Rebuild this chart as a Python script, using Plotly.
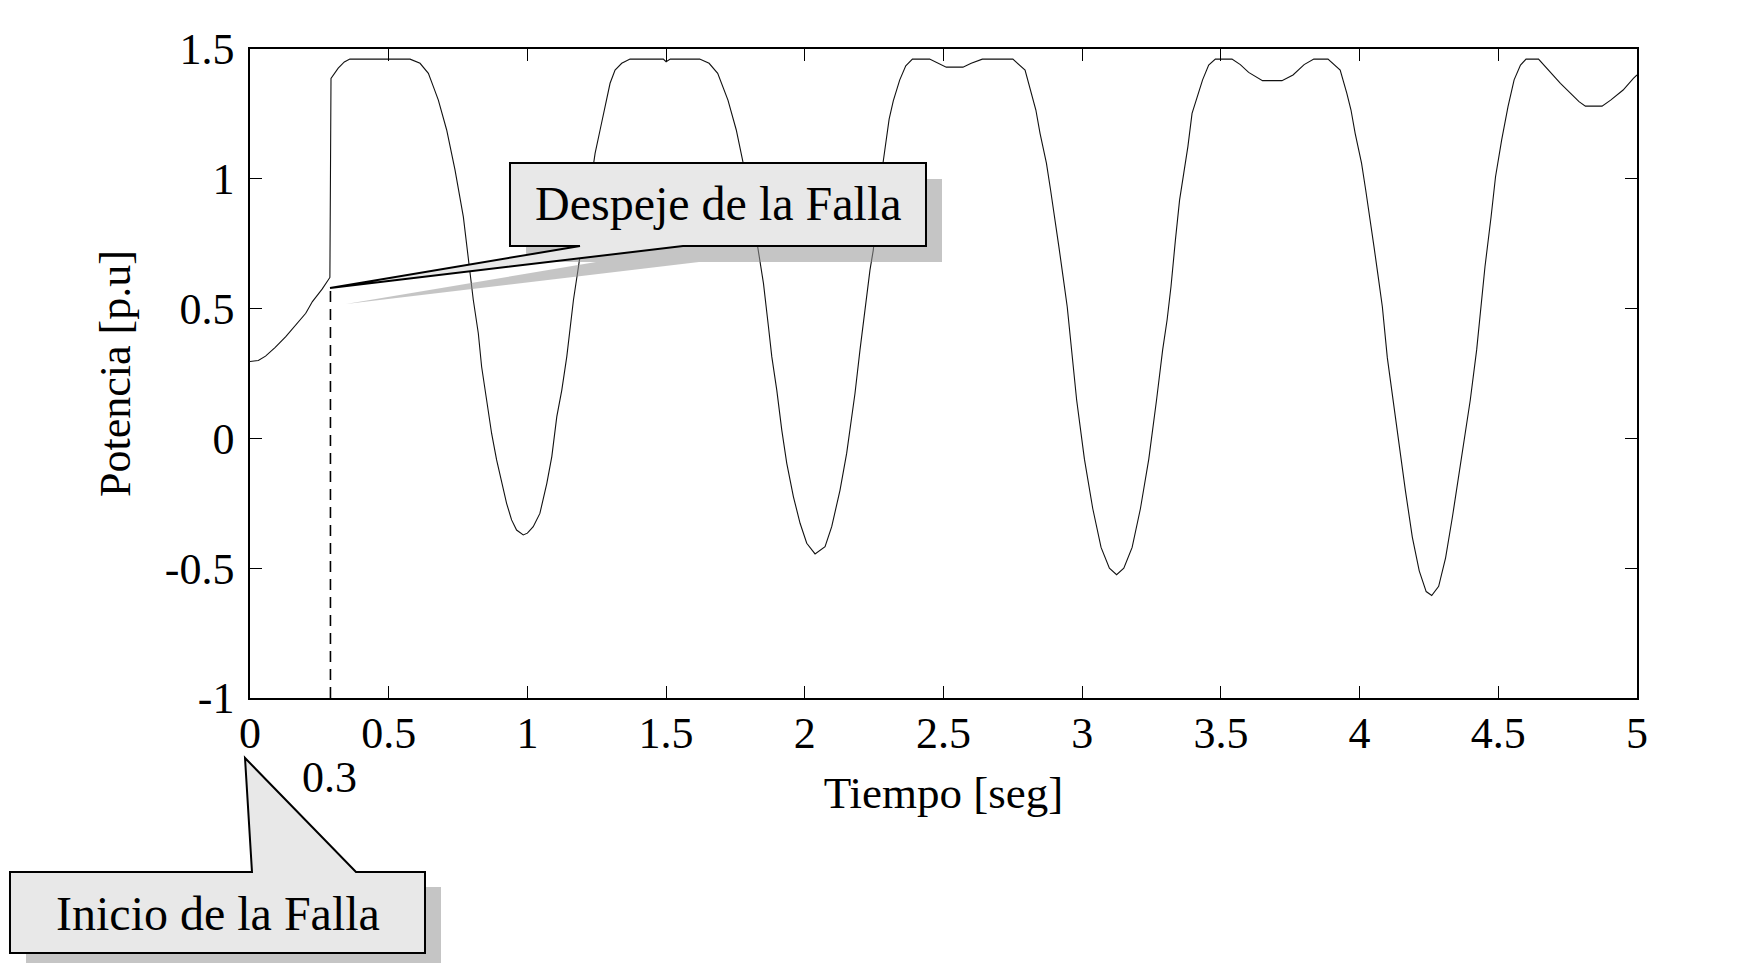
import plotly.graph_objects as go

# Potencia eléctrica del generador durante y después de la falla
tiempo = [
    0.0, 0.03, 0.056, 0.09, 0.129, 0.165, 0.201, 0.225, 0.26, 0.288,
    0.292, 0.318, 0.34, 0.36, 0.577, 0.613, 0.643, 0.661, 0.679, 0.709,
    0.739, 0.769, 0.793, 0.805, 0.823, 0.835, 0.853, 0.871, 0.889, 0.907,
    0.925, 0.943, 0.961, 0.985, 1.0, 1.021, 1.045, 1.07, 1.088, 1.106,
    1.124, 1.142, 1.154, 1.166, 1.184, 1.205, 1.225, 1.244, 1.262, 1.28,
    1.298, 1.316, 1.34, 1.37, 1.49, 1.5, 1.515, 1.621, 1.655, 1.686,
    1.705, 1.723, 1.753, 1.783, 1.813, 1.838, 1.851, 1.869, 1.881, 1.899,
    1.917, 1.935, 1.959, 1.983, 2.007, 2.037, 2.073, 2.097, 2.127, 2.151,
    2.169, 2.181, 2.199, 2.217, 2.235, 2.247, 2.26, 2.274, 2.289, 2.304,
    2.319, 2.342, 2.364, 2.388, 2.45, 2.48, 2.51, 2.57, 2.60, 2.64,
    2.75, 2.794, 2.818, 2.833, 2.848, 2.871, 2.886, 2.901, 2.916, 2.931,
    2.946, 2.98, 3.008, 3.038, 3.068, 3.098, 3.124, 3.15, 3.18,
    3.21, 3.24, 3.268, 3.29, 3.306, 3.32, 3.336, 3.351, 3.366, 3.381,
    3.396, 3.411, 3.434, 3.456, 3.48, 3.54, 3.57, 3.6, 3.65, 3.72,
    3.76, 3.8, 3.835, 3.886, 3.93, 3.954, 3.969, 3.984, 4.007, 4.022,
    4.037, 4.052, 4.067, 4.082, 4.1, 4.12, 4.14, 4.165, 4.19, 4.215,
    4.24, 4.26, 4.285, 4.31, 4.335, 4.36, 4.38, 4.399, 4.422, 4.437,
    4.452, 4.474, 4.49, 4.512, 4.535, 4.557, 4.58, 4.6, 4.645, 4.724,
    4.791, 4.814, 4.874, 4.905, 4.95, 4.987, 5.0,
]
potencia = [
    0.296, 0.30, 0.317, 0.35, 0.392, 0.435, 0.482, 0.527, 0.575, 0.62,
    1.387, 1.426, 1.45, 1.461, 1.461, 1.445, 1.406, 1.355, 1.303, 1.188,
    1.034, 0.854, 0.649, 0.533, 0.405, 0.276, 0.148, 0.019, -0.083, -0.173,
    -0.25, -0.314, -0.353, -0.372, -0.365, -0.34, -0.289, -0.173, -0.07, 0.084,
    0.186, 0.315, 0.43, 0.533, 0.661, 0.81, 0.96, 1.098, 1.188, 1.278,
    1.368, 1.419, 1.445, 1.461, 1.461, 1.451, 1.461, 1.461, 1.445, 1.406,
    1.355, 1.303, 1.188, 1.034, 0.854, 0.687, 0.597, 0.43, 0.315, 0.186,
    0.032, -0.096, -0.225, -0.327, -0.404, -0.445, -0.417, -0.34, -0.199, -0.057,
    0.084, 0.174, 0.341, 0.495, 0.649, 0.726, 0.88, 1.0, 1.11, 1.23,
    1.30, 1.38, 1.435, 1.461, 1.461, 1.445, 1.43, 1.43, 1.445, 1.461,
    1.461, 1.419, 1.329, 1.265, 1.175, 1.06, 0.957, 0.854, 0.738, 0.623,
    0.507, 0.148, -0.08, -0.27, -0.42, -0.50, -0.525, -0.50, -0.42,
    -0.27, -0.08, 0.148, 0.341, 0.456, 0.584, 0.764, 0.918, 1.021, 1.124,
    1.252, 1.303, 1.381, 1.438, 1.461, 1.461, 1.44, 1.41, 1.378, 1.378,
    1.40, 1.44, 1.461, 1.461, 1.419, 1.329, 1.265, 1.175, 1.06, 0.957,
    0.854, 0.738, 0.623, 0.507, 0.31, 0.15, -0.02, -0.2, -0.38, -0.51,
    -0.59, -0.605, -0.57, -0.46, -0.30, -0.12, 0.02, 0.148, 0.341, 0.495,
    0.661, 0.854, 1.008, 1.149, 1.278, 1.381, 1.438, 1.461, 1.461, 1.368,
    1.297, 1.28, 1.28, 1.303, 1.342, 1.387, 1.40,
]

t_despeje = 0.29      # instante de despeje de la falla
p_despeje = 0.58

x_ticks = [0, 0.5, 1, 1.5, 2, 2.5, 3, 3.5, 4, 4.5, 5]
x_ticktext = ["0", "0.5", "1", "1.5", "2", "2.5", "3", "3.5", "4", "4.5", "5"]
y_ticks = [-1, -0.5, 0, 0.5, 1, 1.5]
y_ticktext = ["-1", "-0.5", "0", "0.5", "1", "1.5"]

W, H = 1756, 963
ML, MR, MT, MB = 250, 119, 49, 265
PW, PH = W - ML - MR, H - MT - MB

FONT = "Liberation Serif, Times New Roman, serif"


def px(x):
    return (x - ML) / PW


def py(y):
    return (H - MB - y) / PH


def path(points, dx=0, dy=0):
    parts = []
    for i, (x, y) in enumerate(points):
        parts.append(("M" if i == 0 else "L") + f"{px(x + dx):.5f},{py(y + dy):.5f}")
    return " ".join(parts) + " Z"


fig = go.Figure()

fig.add_trace(go.Scatter(
    x=tiempo, y=potencia, mode="lines",
    line=dict(color="#111111", width=1.1),
    showlegend=False, hoverinfo="skip",
))

fig.add_trace(go.Scatter(
    x=[t_despeje, t_despeje], y=[-1, p_despeje], mode="lines",
    line=dict(color="black", width=1.6, dash="11px,7px"),
    showlegend=False, hoverinfo="skip",
))

# Globo "Despeje de la Falla"
despeje_pts = [(510, 163), (926, 163), (926, 246), (683, 246), (330, 288), (580, 246), (510, 246)]
# Globo "Inicio de la Falla"
inicio_pts = [(10, 872), (252, 872), (245, 758), (356, 872), (425, 872), (425, 953), (10, 953)]

shapes = [
    dict(type="path", xref="paper", yref="paper", path=path(despeje_pts, 16, 16),
         fillcolor="rgba(150,150,150,0.55)", line=dict(width=0)),
    dict(type="path", xref="paper", yref="paper", path=path(despeje_pts),
         fillcolor="#e8e8e8", line=dict(color="black", width=2)),
    dict(type="rect", xref="paper", yref="paper",
         x0=px(26), x1=px(441), y0=py(887), y1=py(970),
         fillcolor="rgba(150,150,150,0.55)", line=dict(width=0)),
    dict(type="path", xref="paper", yref="paper", path=path(inicio_pts),
         fillcolor="#e8e8e8", line=dict(color="black", width=2)),
]

annotations = [
    dict(text="Despeje de la Falla", xref="paper", yref="paper",
         x=px(718), y=py(204), xanchor="center", yanchor="middle", showarrow=False,
         font=dict(family=FONT, size=48, color="black")),
    dict(text="Inicio de la Falla", xref="paper", yref="paper",
         x=px(218), y=py(913), xanchor="center", yanchor="middle", showarrow=False,
         font=dict(family=FONT, size=48, color="black")),
    dict(text="0.3", xref="paper", yref="paper",
         x=px(329), y=py(777), xanchor="center", yanchor="middle", showarrow=False,
         font=dict(family=FONT, size=44, color="black")),
]

axis_common = dict(
    showline=True, linecolor="black", linewidth=1.5, mirror="ticks",
    ticks="inside", ticklen=12, tickwidth=1, tickcolor="black",
    showgrid=False, zeroline=False,
    tickfont=dict(family=FONT, size=44, color="black"),
)

fig.update_layout(
    width=W, height=H,
    margin=dict(l=ML, r=MR, t=MT, b=MB, autoexpand=False),
    paper_bgcolor="white", plot_bgcolor="white",
    font=dict(family=FONT, color="black"),
    xaxis=dict(range=[0, 5], tickvals=x_ticks, ticktext=x_ticktext,
               ticklabelstandoff=-5,
               title=dict(text="Tiempo [seg]", font=dict(family=FONT, size=45), standoff=20),
               **axis_common),
    yaxis=dict(range=[-1, 1.5], tickvals=y_ticks, ticktext=y_ticktext,
               ticklabelstandoff=5,
               title=dict(text="Potencia [p.u]", font=dict(family=FONT, size=44), standoff=20),
               **axis_common),
    shapes=shapes,
    annotations=annotations,
)

fig.write_html("out.html")
